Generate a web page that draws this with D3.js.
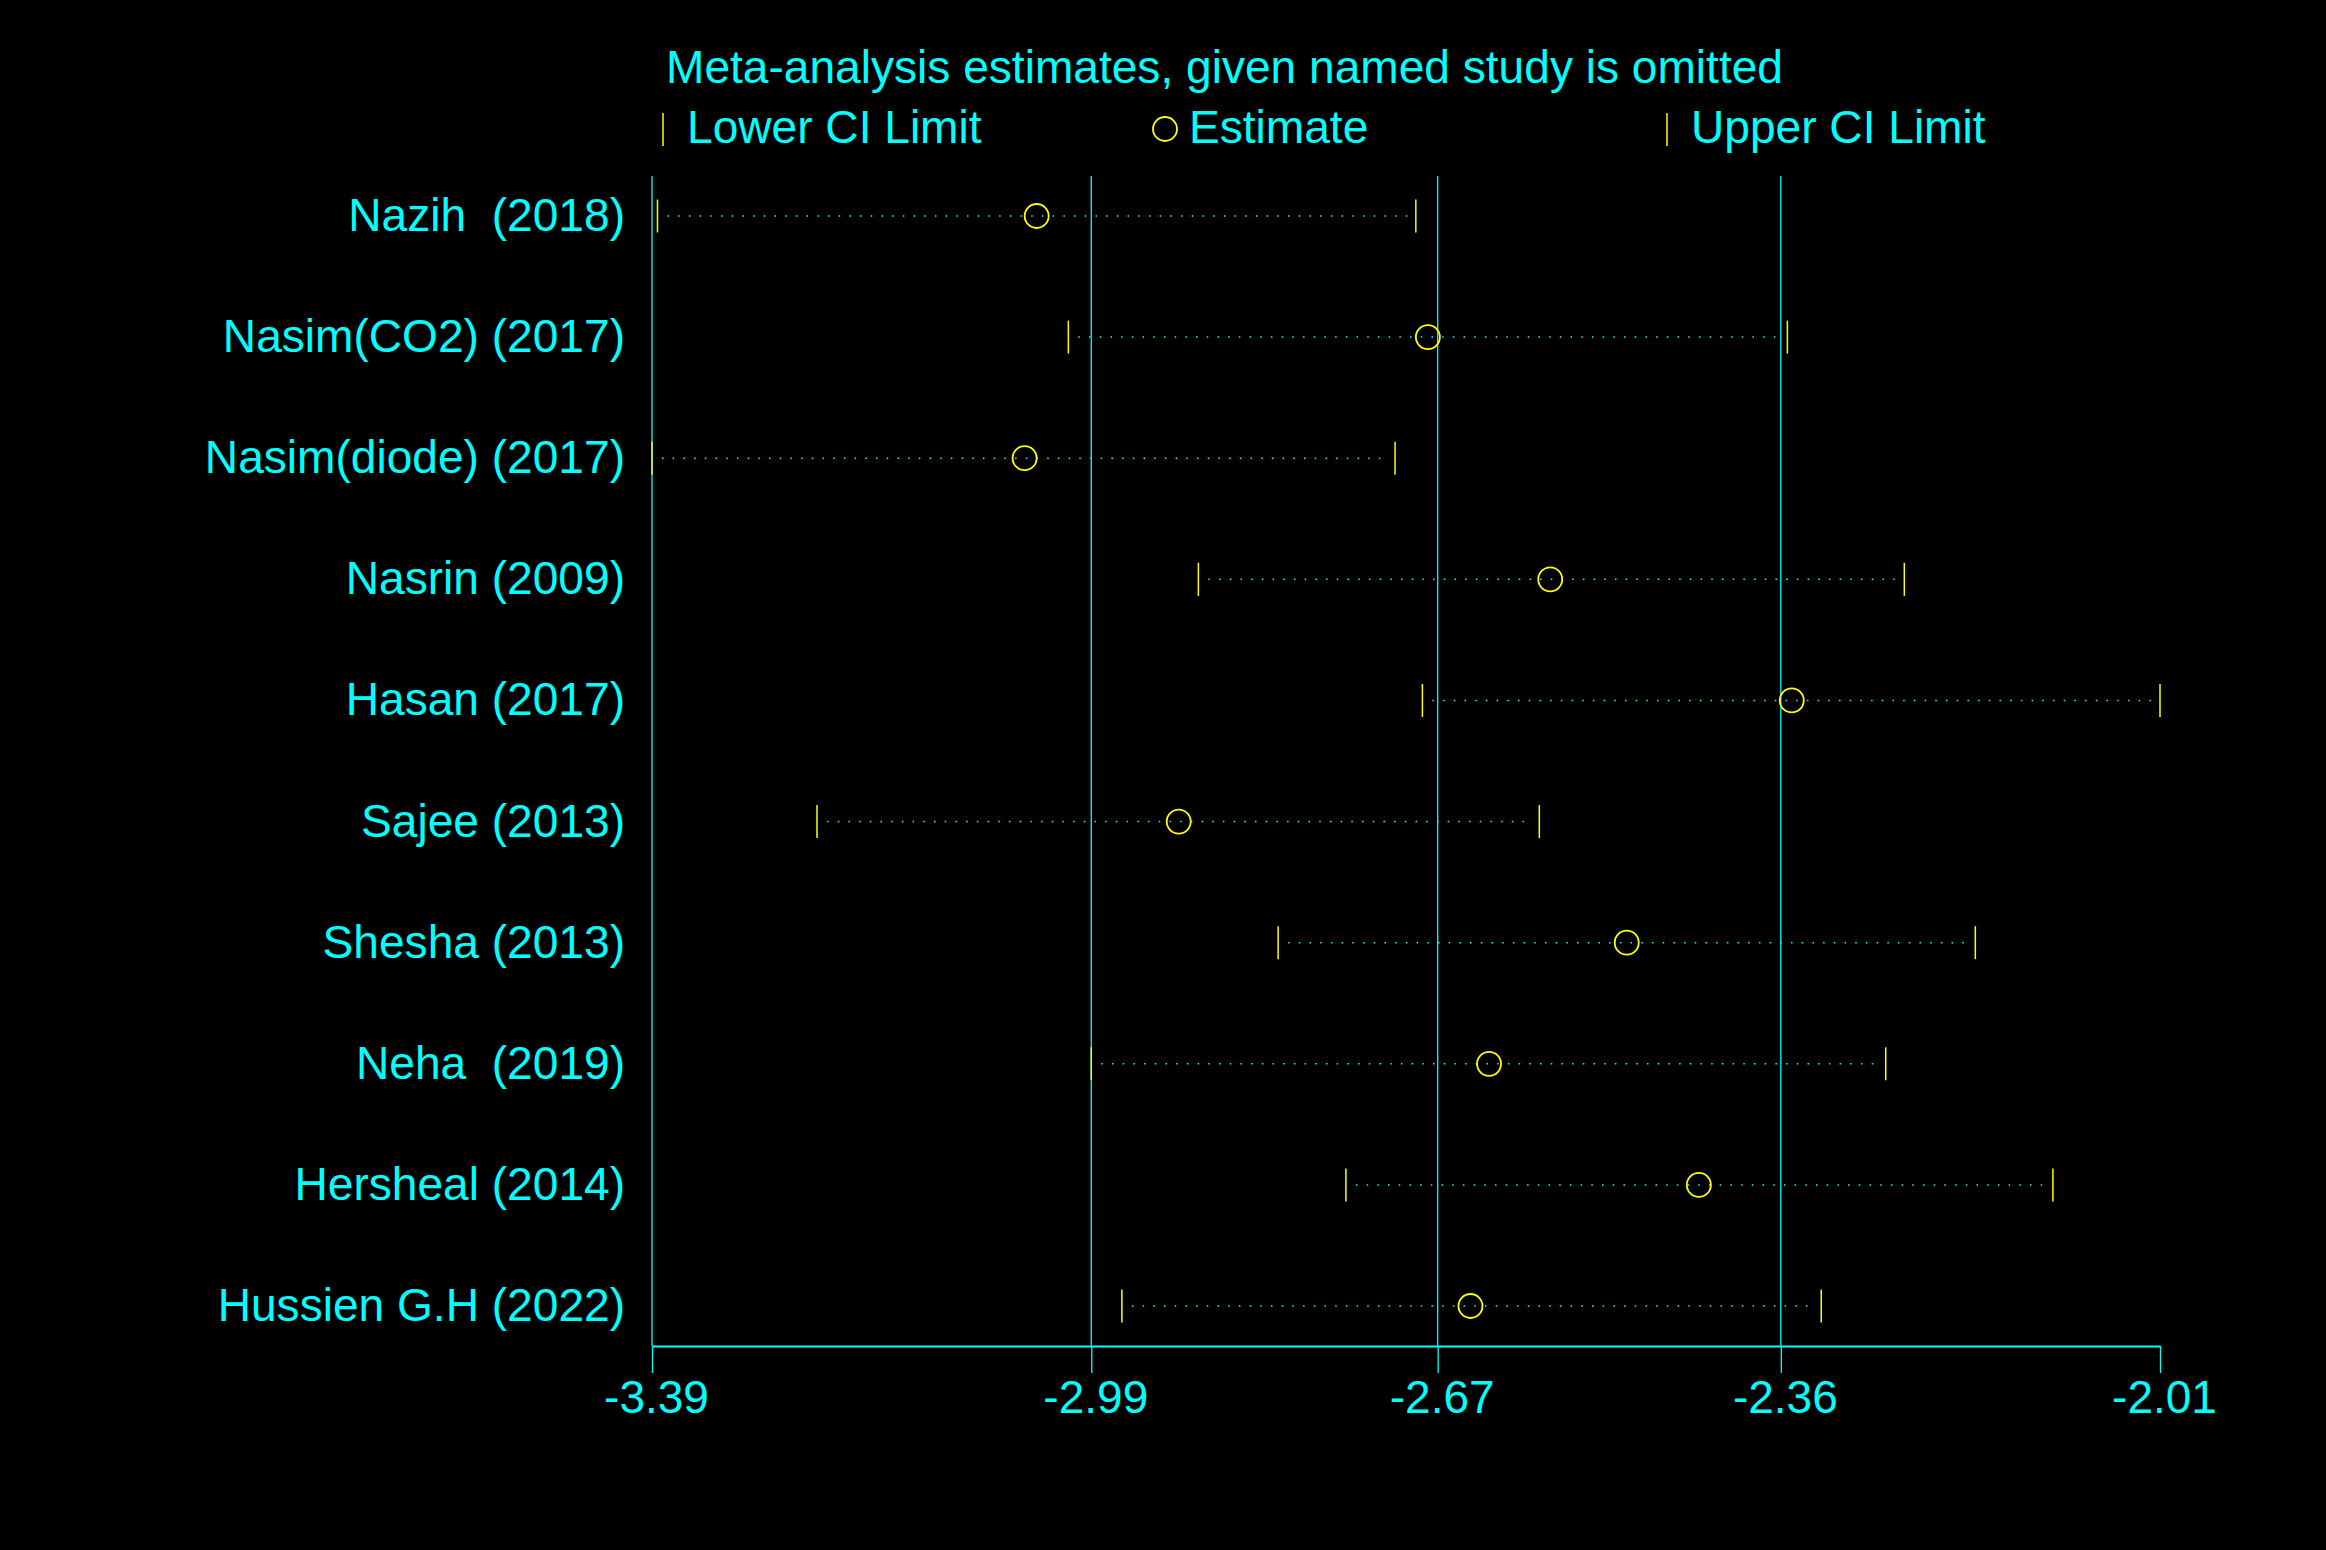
<!DOCTYPE html>
<html>
<head>
<meta charset="utf-8">
<script src="https://cdn.jsdelivr.net/npm/d3@7"></script>
<style>
  html, body { margin: 0; padding: 0; background: #000; }
  text { font-family: "Liberation Sans", Arial, sans-serif; fill: #00ffff; }
</style>
</head>
<body>
<div id="chart"></div>
<script>
"use strict";

// studies, top to bottom
var studies = ["Nazih  (2018)", "Nasim(CO2) (2017)", "Nasim(diode) (2017)", "Nasrin (2009)",
               "Hasan (2017)", "Sajee (2013)", "Shesha (2013)", "Neha  (2019)",
               "Hersheal (2014)", "Hussien G.H (2022)"];
var lowerCI  = [-3.385, -3.009, -3.390, -2.890, -2.685, -3.239, -2.817, -2.988, -2.755, -2.960];
var estimate = [-3.038, -2.680, -3.049, -2.568, -2.347, -2.908, -2.498, -2.624, -2.432, -2.641];
var upperCI  = [-2.691, -2.351, -2.710, -2.244, -2.010, -2.578, -2.179, -2.261, -2.108, -2.320];

var tickValues = [-3.39, -2.988, -2.671, -2.357, -2.01];
var tickLabels = ["-3.39", "-2.99", "-2.67", "-2.36", "-2.01"];
var gridValues = [-3.39, -2.988, -2.671, -2.357];

var width = 2326, height = 1550;
var cyan = "#00ffff", yellow = "#ffff00";
var fontSize = "46.1px";

var svg = d3.select("#chart").append("svg")
    .attr("width", width).attr("height", height)
    .style("display", "block");

svg.append("rect").attr("width", width).attr("height", height).attr("fill", "#000");

var x = d3.scaleLinear().domain([-3.39, -2.01]).range([652, 2160]);
var y = d3.scalePoint().domain(studies).range([216, 1306]);

var rows = studies.map(function(s, i) {
    return {name: s, lo: lowerCI[i], est: estimate[i], hi: upperCI[i]};
});

// grid lines
svg.append("g").selectAll("line")
    .data(gridValues)
    .enter().append("line")
    .attr("x1", function(d) { return x(d); })
    .attr("x2", function(d) { return x(d); })
    .attr("y1", 176).attr("y2", 1346)
    .attr("stroke", cyan).attr("stroke-width", 1.3);

// x axis
var axis = svg.append("g")
    .attr("transform", "translate(0,1346)")
    .call(d3.axisBottom(x)
        .tickValues(tickValues)
        .tickFormat(function(d, i) { return tickLabels[i]; })
        .tickSize(27)
        .tickSizeOuter(0));
axis.select(".domain").attr("stroke", cyan).attr("stroke-width", 2.2);
axis.selectAll(".tick line").attr("stroke", cyan).attr("stroke-width", 1.3);
axis.selectAll(".tick text")
    .attr("x", 4).attr("y", 67).attr("dy", 0)
    .attr("fill", cyan)
    .style("font-size", "46px")
    .style("font-family", "'Liberation Sans', Arial, sans-serif");

// row labels
svg.append("g").selectAll("text")
    .data(rows)
    .enter().append("text")
    .attr("x", 625)
    .attr("y", function(d) { return y(d.name) + 15; })
    .attr("text-anchor", "end")
    .style("font-size", fontSize)
    .style("white-space", "pre")
    .text(function(d) { return d.name; });

var row = svg.append("g").selectAll("g")
    .data(rows)
    .enter().append("g")
    .attr("transform", function(d) { return "translate(0," + y(d.name) + ")"; });

// dotted interval
row.append("line")
    .attr("x1", function(d) { return x(d.lo) + 10; })
    .attr("x2", function(d) { return x(d.hi) - 6; })
    .attr("stroke", cyan)
    .attr("stroke-width", 1.5)
    .attr("stroke-dasharray", "1.5,9.2");

// CI caps
row.append("line")
    .attr("x1", function(d) { return x(d.lo); })
    .attr("x2", function(d) { return x(d.lo); })
    .attr("y1", -16.5).attr("y2", 16.5)
    .attr("stroke", yellow).attr("stroke-width", 1.5);
row.append("line")
    .attr("x1", function(d) { return x(d.hi); })
    .attr("x2", function(d) { return x(d.hi); })
    .attr("y1", -16.5).attr("y2", 16.5)
    .attr("stroke", yellow).attr("stroke-width", 1.5);

// estimates
row.append("circle")
    .attr("cx", function(d) { return x(d.est); })
    .attr("r", 12)
    .attr("fill", "none")
    .attr("stroke", yellow).attr("stroke-width", 1.8);

// title
svg.append("text")
    .attr("x", 666).attr("y", 83)
    .style("font-size", fontSize)
    .text("Meta-analysis estimates, given named study is omitted");

// legend
var legend = svg.append("g");
legend.append("line")
    .attr("x1", 663).attr("x2", 663).attr("y1", 113).attr("y2", 146)
    .attr("stroke", yellow).attr("stroke-width", 1.5);
legend.append("text").attr("x", 687).attr("y", 143).style("font-size", fontSize).text("Lower CI Limit");
legend.append("circle")
    .attr("cx", 1165).attr("cy", 129).attr("r", 12)
    .attr("fill", "none").attr("stroke", yellow).attr("stroke-width", 1.8);
legend.append("text").attr("x", 1189).attr("y", 143).style("font-size", fontSize).text("Estimate");
legend.append("line")
    .attr("x1", 1667).attr("x2", 1667).attr("y1", 113).attr("y2", 146)
    .attr("stroke", yellow).attr("stroke-width", 1.5);
legend.append("text").attr("x", 1691).attr("y", 143).style("font-size", fontSize).text("Upper CI Limit");
</script>
</body>
</html>
